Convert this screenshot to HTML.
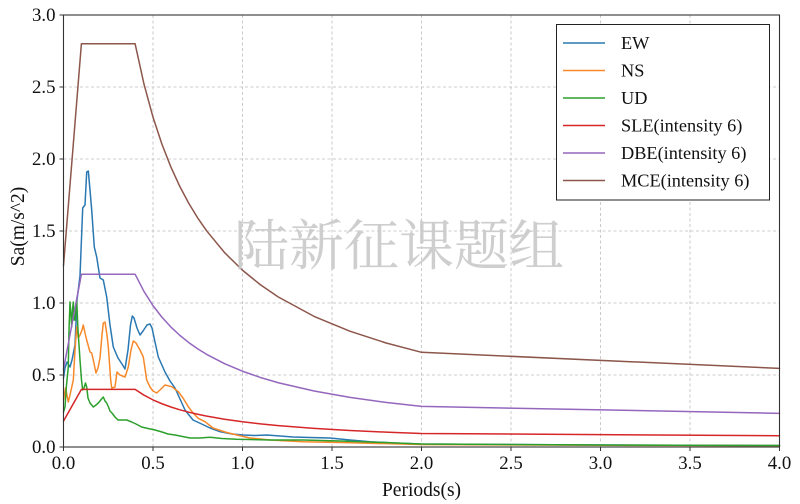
<!DOCTYPE html>
<html>
<head>
<meta charset="utf-8">
<style>
  html, body { margin: 0; padding: 0; background: #ffffff; }
  body { width: 800px; height: 504px; overflow: hidden; }
  svg { display: block; }
  text { font-family: "Liberation Serif", "DejaVu Serif", serif; fill: #111; }
</style>
</head>
<body>
<svg width="800" height="504" viewBox="0 0 800 504" xmlns="http://www.w3.org/2000/svg">
  <rect x="0" y="0" width="800" height="504" fill="#ffffff"/>

  <!-- grid -->
  <g stroke="#bdbdbd" stroke-width="0.8" stroke-dasharray="3,2.5" fill="none">
    <line x1="153" y1="15" x2="153" y2="447"/>
    <line x1="242.5" y1="15" x2="242.5" y2="447"/>
    <line x1="332" y1="15" x2="332" y2="447"/>
    <line x1="421.5" y1="15" x2="421.5" y2="447"/>
    <line x1="511" y1="15" x2="511" y2="447"/>
    <line x1="600.5" y1="15" x2="600.5" y2="447"/>
    <line x1="690" y1="15" x2="690" y2="447"/>
    <line x1="63.5" y1="375" x2="779.5" y2="375"/>
    <line x1="63.5" y1="303" x2="779.5" y2="303"/>
    <line x1="63.5" y1="231" x2="779.5" y2="231"/>
    <line x1="63.5" y1="159" x2="779.5" y2="159"/>
    <line x1="63.5" y1="87" x2="779.5" y2="87"/>
  </g>

  <!-- series -->
  <g fill="none" stroke-width="1.5" stroke-linejoin="round" stroke-linecap="round">
    <!-- EW -->
    <polyline stroke="#2a78b2" points="63.5,378 65,368 67,362 70,367 72,360 75,345 77,300 80,276 82.7,208 85,205 86.7,172 88.3,171 90,190 91.7,210 94.3,247 96.7,257 100,278 103.3,280 106.7,297 110,325 113.3,347 118,358 122,364 125,369 128,350 130.5,325 132.3,316 134,318 137,328 140,335 143,331 147,325 150,324 152,328 155,342 158.3,357 165,372 170,381 175,388 185,410 193,420 201.7,424 210,428 220,431.7 232,434 243,435 255,435.5 266.7,435 280,436 293,437 310,437.5 330,438 350,440 370,441.7 395,443 421,444 500,444.5 600,445 779.5,445.5"/>
    <!-- NS -->
    <polyline stroke="#f7892a" points="63.5,400 65.5,388 67,395 68.3,402 70,395 73.3,380 75,350 76.7,327 78.3,338 80,335 82,330 83.3,325 85,333 86.7,340 90,352 91.7,353 93.3,360 96,373 98,368 100,358 102,335 103.3,323 105,322 107,335 108.3,347 110.7,380 111.7,388 115,387 117,372 120,375 125,377 128.3,367 131,350 133.3,341 136,343 140,350 143.3,357 146.7,380 150,387 153,391 156.7,393 160,390 165,385 171.7,386.7 178.3,391.7 183,398 188.3,406.7 193,413 198.3,418.3 205,421.7 213,428 225,432 236.7,435 250,438 270,440 303,441.7 340,442.5 370,443.3 421,444.5 600,445.3 779.5,445.6"/>
    <!-- UD -->
    <polyline stroke="#2ca02c" points="63.5,412 65,407 66.5,385 68.3,367 69,330 70,302 71,315 71.7,327 72.5,310 73.3,302 74,320 75,320 76,305 76.7,300 78,330 80,360 81.5,380 82.7,390 84,388 85.5,383 86.7,387 88,398 90,403 93.3,407 96,405 98.3,403 100,401 101.5,399 103.3,397 105,401 106.7,403 108.5,407 110,411 112,413 115,417 118,420 121.7,420 126.7,420 131.7,422 136,424 141.7,427 148,428.5 155,430 162,432 168,434 175,435 185,437 190,438 200,438 210,437.3 222,438.5 236.7,439.3 270,440 303,440 340,441 370,442 421,444 600,445 779.5,445.5"/>
    <!-- SLE -->
    <polyline stroke="#d62728" points="63.5,421.08 81.4,389.4 135.1,389.4 144.05,395.19 153,399.88 161.95,403.75 170.9,407.01 179.85,409.79 188.8,412.19 197.75,414.29 206.7,416.13 224.6,419.24 242.5,421.75 260.4,423.82 278.3,425.57 314.1,428.34 349.9,430.46 385.7,432.12 421.5,433.47 779.5,435.77"/>
    <!-- DBE -->
    <polyline stroke="#9467bd" points="63.5,369.24 81.4,274.2 135.1,274.2 144.05,291.58 153,305.63 161.95,317.26 170.9,327.02 179.85,335.37 188.8,342.58 197.75,348.87 206.7,354.4 224.6,363.71 242.5,371.24 260.4,377.47 278.3,382.72 314.1,391.03 349.9,397.37 385.7,402.37 421.5,406.41 779.5,413.32"/>
    <!-- MCE -->
    <polyline stroke="#8c564b" points="63.5,265.56 81.4,43.8 135.1,43.8 144.05,84.36 153,117.14 161.95,144.28 170.9,167.06 179.85,186.53 188.8,203.35 197.75,218.02 206.7,230.93 224.6,252.66 242.5,270.24 260.4,284.75 278.3,297.01 314.1,316.4 349.9,331.2 385.7,342.85 421.5,352.29 779.5,368.42"/>
  </g>

  <!-- watermark -->
  <text x="399" y="265" text-anchor="middle" font-size="55" style="font-family:'Noto Serif CJK SC','Noto Sans CJK SC',serif;fill:#c9c9c9;" opacity="0.9">陆新征课题组</text>

  <!-- spines -->
  <rect x="63.5" y="15" width="716" height="432" fill="none" stroke="#333" stroke-width="1.1"/>

  <!-- ticks -->
  <g stroke="#333" stroke-width="1">
    <line x1="63.5" y1="447" x2="63.5" y2="451"/>
    <line x1="153" y1="447" x2="153" y2="451"/>
    <line x1="242.5" y1="447" x2="242.5" y2="451"/>
    <line x1="332" y1="447" x2="332" y2="451"/>
    <line x1="421.5" y1="447" x2="421.5" y2="451"/>
    <line x1="511" y1="447" x2="511" y2="451"/>
    <line x1="600.5" y1="447" x2="600.5" y2="451"/>
    <line x1="690" y1="447" x2="690" y2="451"/>
    <line x1="779.5" y1="447" x2="779.5" y2="451"/>
    <line x1="59.5" y1="447" x2="63.5" y2="447"/>
    <line x1="59.5" y1="375" x2="63.5" y2="375"/>
    <line x1="59.5" y1="303" x2="63.5" y2="303"/>
    <line x1="59.5" y1="231" x2="63.5" y2="231"/>
    <line x1="59.5" y1="159" x2="63.5" y2="159"/>
    <line x1="59.5" y1="87" x2="63.5" y2="87"/>
    <line x1="59.5" y1="15" x2="63.5" y2="15"/>
  </g>

  <!-- x tick labels -->
  <g font-size="18.8" text-anchor="middle">
    <text x="63.5" y="469">0.0</text>
    <text x="153" y="469">0.5</text>
    <text x="242.5" y="469">1.0</text>
    <text x="332" y="469">1.5</text>
    <text x="421.5" y="469">2.0</text>
    <text x="511" y="469">2.5</text>
    <text x="600.5" y="469">3.0</text>
    <text x="690" y="469">3.5</text>
    <text x="779.5" y="469">4.0</text>
  </g>
  <!-- y tick labels -->
  <g font-size="18.8" text-anchor="end">
    <text x="55.5" y="453">0.0</text>
    <text x="55.5" y="381">0.5</text>
    <text x="55.5" y="309">1.0</text>
    <text x="55.5" y="237">1.5</text>
    <text x="55.5" y="165">2.0</text>
    <text x="55.5" y="93">2.5</text>
    <text x="55.5" y="21">3.0</text>
  </g>

  <!-- axis labels -->
  <text x="421.5" y="496" font-size="19.5" text-anchor="middle">Periods(s)</text>
  <text x="0" y="0" font-size="19.5" text-anchor="middle" transform="translate(24,226.5) rotate(-90)">Sa(m/s^2)</text>

  <!-- legend -->
  <rect x="556.5" y="24.5" width="213" height="175.5" fill="#ffffff" stroke="#222" stroke-width="1"/>
  <g stroke-width="1.5">
    <line x1="563" y1="43" x2="605" y2="43" stroke="#2a78b2"/>
    <line x1="563" y1="70.5" x2="605" y2="70.5" stroke="#f7892a"/>
    <line x1="563" y1="98" x2="605" y2="98" stroke="#2ca02c"/>
    <line x1="563" y1="125.5" x2="605" y2="125.5" stroke="#d62728"/>
    <line x1="563" y1="153" x2="605" y2="153" stroke="#9467bd"/>
    <line x1="563" y1="180.5" x2="605" y2="180.5" stroke="#8c564b"/>
  </g>
  <g font-size="18.3">
    <text x="621" y="49">EW</text>
    <text x="621" y="76.5">NS</text>
    <text x="621" y="104">UD</text>
    <text x="621" y="131.5">SLE(intensity 6)</text>
    <text x="621" y="159">DBE(intensity 6)</text>
    <text x="621" y="186.5">MCE(intensity 6)</text>
  </g>
</svg>
</body>
</html>
